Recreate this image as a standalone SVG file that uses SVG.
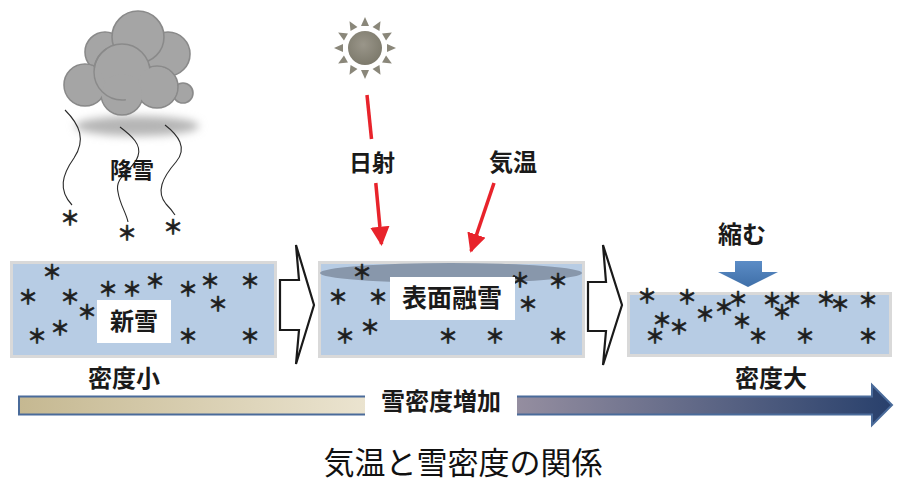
<svg xmlns="http://www.w3.org/2000/svg" width="903" height="483" viewBox="0 0 903 483">
  <style>
    .lbl { font-family: "Noto Sans CJK JP", "Noto Sans CJK SC", sans-serif; font-weight: bold; fill: #1a1a1a; text-anchor: middle; }
    .title { font-family: "Noto Sans CJK JP", "Noto Sans CJK SC", sans-serif; font-weight: normal; fill: #111; text-anchor: middle; }
    .snow { font-family: "Noto Sans CJK JP", sans-serif; font-weight: bold; font-size: 20px; fill: #1e1e1e; stroke: #1e1e1e; stroke-width: 0.5; text-anchor: middle; }
    .layer { fill: #b7cce4; stroke: #d9d9d9; stroke-width: 3; }
    .tag { fill: #ffffff; }
    .step { fill: #ffffff; stroke: #1a1a1a; stroke-width: 2.2; stroke-linejoin: miter; }
    .ray { stroke: #e8232b; stroke-width: 3.5; fill: none; }
    .fall { stroke: #2a2a2a; stroke-width: 1.1; fill: none; }
    .puff { fill: #a5a5a5; stroke: #8a8a8a; stroke-width: 1.6; }
    .puff-fill { fill: #a5a5a5; }
  </style>
  <defs>
    <marker id="redHead" viewBox="0 0 10 10" refX="9" refY="5" markerWidth="5.5" markerHeight="5.5" orient="auto" markerUnits="strokeWidth">
      <path d="M0,0 L10,5 L0,10 Z" fill="#e8232b"/>
    </marker>
    <linearGradient id="densityBar" x1="18" y1="0" x2="892" y2="0" gradientUnits="userSpaceOnUse">
      <stop offset="0" stop-color="#c5b891"/>
      <stop offset="0.4" stop-color="#ebe4d0"/>
      <stop offset="0.57" stop-color="#958ea0"/>
      <stop offset="1" stop-color="#28406c"/>
    </linearGradient>
    <linearGradient id="pressArrow" x1="0" y1="0" x2="0" y2="1">
      <stop offset="0" stop-color="#5b8cc6"/>
      <stop offset="1" stop-color="#3f6fa8"/>
    </linearGradient>
    <radialGradient id="sunDisc" cx="0.45" cy="0.4" r="0.6">
      <stop offset="0" stop-color="#9a968a"/>
      <stop offset="1" stop-color="#7d7a6c"/>
    </radialGradient>
    <filter id="soft" x="-30%" y="-100%" width="160%" height="300%">
      <feGaussianBlur stdDeviation="4"/>
    </filter>
    <g id="ray">
      <path d="M-4,-22 L4,-22 L0,-31 Z" fill="#8a877a"/>
    </g>
  </defs>

  <!-- cloud with snowfall -->
  <g id="cloud">
    <ellipse cx="137" cy="126" rx="62" ry="10" fill="#b5b5b5" filter="url(#soft)"/>
    <!-- back puffs -->
    <circle class="puff" cx="105" cy="52" r="20"/>
    <circle class="puff" cx="168" cy="54" r="22"/>
    <circle class="puff" cx="138" cy="37" r="26"/>
    <!-- front puffs: outlines first, then fills so only the silhouette edge shows -->
    <g class="puff">
      <circle cx="183" cy="93" r="10"/>
      <circle cx="157" cy="87" r="21"/>
      <circle cx="85" cy="85" r="21"/>
      <circle cx="122" cy="94" r="21"/>
      <circle cx="122" cy="72" r="28"/>
    </g>
    <g class="puff-fill">
      <circle cx="157" cy="87" r="20"/>
      <circle cx="85" cy="85" r="20"/>
      <circle cx="122" cy="94" r="20"/>
    </g>
    <circle cx="122" cy="72" r="28" fill="none" stroke="#8a8a8a" stroke-width="1.4" stroke-dasharray="0 40 75 200"/>
  </g>

  <g id="snowfall">
    <path class="fall" d="M65,110 C80,125 86,140 74,158 C62,175 58,190 72,205"/>
    <path class="fall" d="M120,127 C132,136 142,145 138,156 C134,170 114,176 118,192 C120,205 126,212 128,222"/>
    <path class="fall" d="M165,125 C178,135 188,148 176,162 C162,178 156,192 166,204 C170,208 173,212 175,215"/>
    <text class="snow" x="70" y="226">＊</text>
    <text class="snow" x="127" y="241">＊</text>
    <text class="snow" x="173" y="235">＊</text>
    <text class="lbl" x="132" y="178" font-size="22">降雪</text>
  </g>

  <!-- sun -->
  <g id="sun" transform="translate(365,48)">
    <use href="#ray"/>
    <use href="#ray" transform="rotate(30)"/>
    <use href="#ray" transform="rotate(60)"/>
    <use href="#ray" transform="rotate(90)"/>
    <use href="#ray" transform="rotate(120)"/>
    <use href="#ray" transform="rotate(150)"/>
    <use href="#ray" transform="rotate(180)"/>
    <use href="#ray" transform="rotate(210)"/>
    <use href="#ray" transform="rotate(240)"/>
    <use href="#ray" transform="rotate(270)"/>
    <use href="#ray" transform="rotate(300)"/>
    <use href="#ray" transform="rotate(330)"/>
    <circle r="17" fill="url(#sunDisc)"/>
  </g>

  <!-- layer 1: fresh snow -->
  <g id="fresh-snow">
    <rect class="layer" x="11.5" y="262.5" width="264" height="94"/>
    <g class="snow">
      <text x="52" y="280">＊</text>
      <text x="28" y="305">＊</text>
      <text x="70" y="305">＊</text>
      <text x="87" y="320">＊</text>
      <text x="108" y="297">＊</text>
      <text x="132" y="297">＊</text>
      <text x="155" y="289">＊</text>
      <text x="188" y="297">＊</text>
      <text x="210" y="289">＊</text>
      <text x="250" y="289">＊</text>
      <text x="218" y="312">＊</text>
      <text x="60" y="336">＊</text>
      <text x="37" y="344">＊</text>
      <text x="188" y="344">＊</text>
      <text x="250" y="344">＊</text>
    </g>
    <rect class="tag" x="97" y="300" width="74" height="43"/>
    <text class="lbl" x="134" y="330" font-size="24">新雪</text>
  </g>

  <!-- layer 2: surface melt -->
  <g id="surface-melt">
    <rect class="layer" x="319.5" y="262.5" width="264" height="94"/>
    <ellipse cx="451" cy="273" rx="131" ry="10" fill="#8897ab"/>
    <g class="snow">
      <text x="362" y="280">＊</text>
      <text x="338" y="305">＊</text>
      <text x="378" y="305">＊</text>
      <text x="520" y="288">＊</text>
      <text x="558" y="289">＊</text>
      <text x="528" y="312">＊</text>
      <text x="370" y="335">＊</text>
      <text x="345" y="344">＊</text>
      <text x="448" y="344">＊</text>
      <text x="495" y="344">＊</text>
      <text x="558" y="344">＊</text>
    </g>
    <rect class="tag" x="390" y="277" width="125" height="43"/>
    <text class="lbl" x="452" y="307" font-size="25">表面融雪</text>
  </g>

  <!-- layer 3: compacted snow -->
  <g id="compacted">
    <rect class="layer" x="628.5" y="293.5" width="262" height="62"/>
    <g class="snow">
      <text x="647" y="304">＊</text>
      <text x="687" y="305">＊</text>
      <text x="738" y="307">＊</text>
      <text x="772" y="308">＊</text>
      <text x="792" y="308">＊</text>
      <text x="826" y="307">＊</text>
      <text x="840" y="312">＊</text>
      <text x="868" y="308">＊</text>
      <text x="724" y="315">＊</text>
      <text x="782" y="320">＊</text>
      <text x="705" y="322">＊</text>
      <text x="662" y="328">＊</text>
      <text x="742" y="329">＊</text>
      <text x="679" y="335">＊</text>
      <text x="655" y="344">＊</text>
      <text x="758" y="344">＊</text>
      <text x="805" y="344">＊</text>
      <text x="868" y="344">＊</text>
    </g>
  </g>

  <!-- compression -->
  <g id="compress">
    <text class="lbl" x="742" y="243" font-size="24">縮む</text>
    <path d="M735,261 L762,261 L762,272 L778,272 L748,287 L718,272 L735,272 Z" fill="url(#pressArrow)"/>
  </g>

  <!-- connectors -->
  <g id="connectors">
    <polygon class="step" points="280,280 299,280 296,245 314,305 296,364 299,330 280,330"/>
    <polygon class="step" points="588,282 606,282 603,245 622,305 603,365 606,331 588,331"/>
    <line class="ray" x1="367" y1="95" x2="371.5" y2="139"/>
    <line class="ray" x1="375.8" y1="183" x2="381.5" y2="244" marker-end="url(#redHead)"/>
    <line class="ray" x1="494" y1="183" x2="471" y2="251" marker-end="url(#redHead)"/>
  </g>

  <g id="radiation-label">
    <text class="lbl" x="372" y="171" font-size="23">日射</text>
  </g>
  <g id="air-temp-label">
    <text class="lbl" x="513" y="171" font-size="24">気温</text>
  </g>

  <!-- density axis -->
  <g id="density-axis">
    <path d="M19,396.5 L872,396.5 L872,385 L892,405 L872,425 L872,414.5 L19,414.5 Z" fill="url(#densityBar)" stroke="#4a6b9a" stroke-width="2"/>
    <rect x="365" y="386" width="152" height="30" fill="#ffffff"/>
    <text class="lbl" x="441" y="410" font-size="24">雪密度増加</text>
    <text class="lbl" x="124" y="387" font-size="24">密度小</text>
    <text class="lbl" x="771" y="387" font-size="24">密度大</text>
  </g>

  <text class="title" x="463" y="474" font-size="31">気温と雪密度の関係</text>
</svg>
